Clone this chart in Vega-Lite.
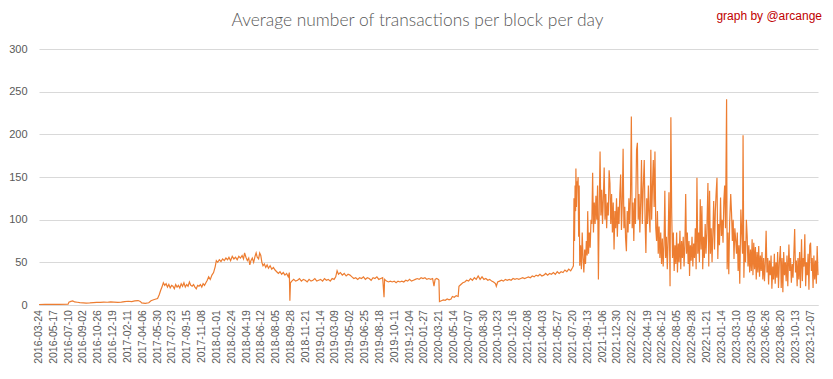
{
"$schema": "https://vega.github.io/schema/vega-lite/v6.json",
"width": 779, "height": 256,
"autosize": {"type": "none"},
"padding": {"left": 39, "top": 49, "right": 15, "bottom": 74},
"background": "white",
"title": {"text": "Average number of transactions per block per day", "frame": "group", "anchor": "middle", "orient": "top", "offset": 16},
"config": {"view": {"stroke": null}, "title": {"font": "Lato", "fontSize": 17.4, "fontWeight": 300, "color": "#595959", "dx": -11, "dy": 36}},
"datasets": {
"ticks": [{"tick":"2016-03-24"},{"tick":"2016-05-17"},{"tick":"2016-07-10"},{"tick":"2016-09-02"},{"tick":"2016-10-26"},{"tick":"2016-12-19"},{"tick":"2017-02-11"},{"tick":"2017-04-06"},{"tick":"2017-05-30"},{"tick":"2017-07-23"},{"tick":"2017-09-15"},{"tick":"2017-11-08"},{"tick":"2018-01-01"},{"tick":"2018-02-24"},{"tick":"2018-04-19"},{"tick":"2018-06-12"},{"tick":"2018-08-05"},{"tick":"2018-09-28"},{"tick":"2018-11-21"},{"tick":"2019-01-14"},{"tick":"2019-03-09"},{"tick":"2019-05-02"},{"tick":"2019-06-25"},{"tick":"2019-08-18"},{"tick":"2019-10-11"},{"tick":"2019-12-04"},{"tick":"2020-01-27"},{"tick":"2020-03-21"},{"tick":"2020-05-14"},{"tick":"2020-07-07"},{"tick":"2020-08-30"},{"tick":"2020-10-23"},{"tick":"2020-12-16"},{"tick":"2021-02-08"},{"tick":"2021-04-03"},{"tick":"2021-05-27"},{"tick":"2021-07-20"},{"tick":"2021-09-13"},{"tick":"2021-11-06"},{"tick":"2021-12-30"},{"tick":"2022-02-22"},{"tick":"2022-04-19"},{"tick":"2022-06-12"},{"tick":"2022-08-05"},{"tick":"2022-09-28"},{"tick":"2022-11-21"},{"tick":"2023-01-14"},{"tick":"2023-03-10"},{"tick":"2023-05-03"},{"tick":"2023-06-26"},{"tick":"2023-08-20"},{"tick":"2023-10-13"},{"tick":"2023-12-07"}],
"series": [
{"date":"2016-03-24","value":0.6},{"date":"2016-04-15","value":0.7},{"date":"2016-05-10","value":0.7},{"date":"2016-06-05","value":0.8},{"date":"2016-07-08","value":0.9},
{"date":"2016-07-11","value":3.4},{"date":"2016-07-18","value":4.2},{"date":"2016-07-25","value":4.8},{"date":"2016-08-01","value":3.6},{"date":"2016-08-10","value":3.2},{"date":"2016-08-20","value":2.8},{"date":"2016-09-01","value":2.6},{"date":"2016-09-12","value":2.3},{"date":"2016-09-25","value":2.5},{"date":"2016-10-08","value":2.8},{"date":"2016-10-20","value":3.0},{"date":"2016-11-02","value":3.1},{"date":"2016-11-15","value":3.4},{"date":"2016-11-28","value":3.2},{"date":"2016-12-10","value":3.6},{"date":"2016-12-22","value":3.3},
{"date":"2017-01-05","value":3.0},{"date":"2017-01-18","value":3.4},{"date":"2017-01-30","value":4.0},{"date":"2017-02-12","value":4.4},{"date":"2017-02-25","value":4.0},{"date":"2017-03-08","value":4.8},{"date":"2017-03-20","value":5.2},{"date":"2017-03-28","value":4.2},{"date":"2017-04-02","value":2.4},{"date":"2017-04-15","value":2.0},{"date":"2017-04-28","value":2.6},{"date":"2017-05-06","value":5.0},{"date":"2017-05-18","value":6.5},{"date":"2017-05-30","value":7.5},{"date":"2017-06-05","value":12},{"date":"2017-06-10","value":17},{"date":"2017-06-15","value":21},{"date":"2017-06-20","value":26},{"date":"2017-06-25","value":23},{"date":"2017-06-30","value":25},
{"date":"2017-07-05","value":21},{"date":"2017-07-10","value":24},{"date":"2017-07-15","value":20},{"date":"2017-07-20","value":23},{"date":"2017-07-25","value":22},{"date":"2017-07-30","value":19},{"date":"2017-08-04","value":24},{"date":"2017-08-09","value":21},{"date":"2017-08-14","value":23},{"date":"2017-08-19","value":20},{"date":"2017-08-24","value":25},{"date":"2017-08-29","value":22},{"date":"2017-09-03","value":26},{"date":"2017-09-08","value":21},{"date":"2017-09-13","value":24},{"date":"2017-09-18","value":22},{"date":"2017-09-23","value":27},{"date":"2017-09-28","value":23},{"date":"2017-10-03","value":22},{"date":"2017-10-08","value":24},{"date":"2017-10-13","value":21},{"date":"2017-10-18","value":19},{"date":"2017-10-23","value":23},{"date":"2017-10-28","value":22},{"date":"2017-11-02","value":24},{"date":"2017-11-07","value":21},{"date":"2017-11-12","value":25},{"date":"2017-11-17","value":23},{"date":"2017-11-22","value":26},{"date":"2017-11-27","value":29},{"date":"2017-12-02","value":33},{"date":"2017-12-08","value":30},{"date":"2017-12-14","value":35},{"date":"2017-12-20","value":38},{"date":"2017-12-26","value":45},{"date":"2017-12-30","value":52},
{"date":"2018-01-04","value":50},{"date":"2018-01-10","value":53},{"date":"2018-01-16","value":51},{"date":"2018-01-22","value":54},{"date":"2018-01-28","value":52},{"date":"2018-02-03","value":55},{"date":"2018-02-09","value":53},{"date":"2018-02-14","value":56},{"date":"2018-02-20","value":52},{"date":"2018-02-26","value":57},{"date":"2018-03-04","value":54},{"date":"2018-03-10","value":56},{"date":"2018-03-16","value":53},{"date":"2018-03-22","value":57},{"date":"2018-03-28","value":55},{"date":"2018-04-03","value":58},{"date":"2018-04-08","value":54},{"date":"2018-04-12","value":61},{"date":"2018-04-17","value":56},{"date":"2018-04-22","value":52},{"date":"2018-04-27","value":55},{"date":"2018-05-01","value":47},{"date":"2018-05-05","value":52},{"date":"2018-05-10","value":55},{"date":"2018-05-15","value":50},{"date":"2018-05-20","value":57},{"date":"2018-05-24","value":61},{"date":"2018-05-28","value":56},{"date":"2018-06-02","value":54},{"date":"2018-06-06","value":61},{"date":"2018-06-10","value":58},{"date":"2018-06-14","value":50},{"date":"2018-06-18","value":46},{"date":"2018-06-23","value":48},{"date":"2018-06-28","value":44},{"date":"2018-07-03","value":47},{"date":"2018-07-08","value":43},{"date":"2018-07-14","value":46},{"date":"2018-07-20","value":42},{"date":"2018-07-26","value":44},{"date":"2018-08-01","value":41},{"date":"2018-08-07","value":39},{"date":"2018-08-13","value":37},{"date":"2018-08-19","value":39},{"date":"2018-08-25","value":36},{"date":"2018-08-31","value":38},{"date":"2018-09-06","value":35},{"date":"2018-09-12","value":37},{"date":"2018-09-18","value":33},{"date":"2018-09-22","value":38},{"date":"2018-09-24","value":5},{"date":"2018-09-26","value":26},{"date":"2018-10-01","value":28},{"date":"2018-10-08","value":30},{"date":"2018-10-15","value":28},{"date":"2018-10-22","value":29},{"date":"2018-10-29","value":31},{"date":"2018-11-05","value":28},{"date":"2018-11-12","value":30},{"date":"2018-11-19","value":29},{"date":"2018-11-26","value":27},{"date":"2018-12-03","value":30},{"date":"2018-12-10","value":28},{"date":"2018-12-17","value":29},{"date":"2018-12-24","value":31},{"date":"2018-12-31","value":28},
{"date":"2019-01-07","value":29},{"date":"2019-01-14","value":30},{"date":"2019-01-21","value":28},{"date":"2019-01-28","value":31},{"date":"2019-02-04","value":29},{"date":"2019-02-11","value":30},{"date":"2019-02-18","value":28},{"date":"2019-02-25","value":31},{"date":"2019-03-04","value":30},{"date":"2019-03-10","value":33},{"date":"2019-03-15","value":40},{"date":"2019-03-20","value":36},{"date":"2019-03-27","value":38},{"date":"2019-04-03","value":35},{"date":"2019-04-10","value":37},{"date":"2019-04-17","value":34},{"date":"2019-04-24","value":36},{"date":"2019-05-01","value":35},{"date":"2019-05-08","value":33},{"date":"2019-05-15","value":31},{"date":"2019-05-22","value":32},{"date":"2019-05-29","value":30},{"date":"2019-06-05","value":32},{"date":"2019-06-12","value":31},{"date":"2019-06-19","value":33},{"date":"2019-06-26","value":30},{"date":"2019-07-03","value":32},{"date":"2019-07-10","value":31},{"date":"2019-07-17","value":29},{"date":"2019-07-24","value":32},{"date":"2019-07-31","value":31},{"date":"2019-08-07","value":33},{"date":"2019-08-14","value":30},{"date":"2019-08-21","value":31},{"date":"2019-08-28","value":32},{"date":"2019-09-02","value":9},{"date":"2019-09-04","value":30},{"date":"2019-09-11","value":28},{"date":"2019-09-18","value":27},{"date":"2019-09-25","value":28},{"date":"2019-10-02","value":27},{"date":"2019-10-09","value":28},{"date":"2019-10-16","value":26},{"date":"2019-10-23","value":28},{"date":"2019-10-30","value":27},{"date":"2019-11-06","value":28},{"date":"2019-11-13","value":27},{"date":"2019-11-20","value":29},{"date":"2019-11-27","value":28},{"date":"2019-12-04","value":30},{"date":"2019-12-11","value":28},{"date":"2019-12-18","value":29},{"date":"2019-12-25","value":30},
{"date":"2020-01-01","value":31},{"date":"2020-01-08","value":30},{"date":"2020-01-15","value":32},{"date":"2020-01-22","value":31},{"date":"2020-01-29","value":32},{"date":"2020-02-05","value":30},{"date":"2020-02-12","value":31},{"date":"2020-02-19","value":30},{"date":"2020-02-26","value":31},{"date":"2020-03-02","value":22},{"date":"2020-03-06","value":30},{"date":"2020-03-12","value":31},{"date":"2020-03-18","value":30},{"date":"2020-03-20","value":29},{"date":"2020-03-22","value":4},{"date":"2020-03-29","value":5},{"date":"2020-04-05","value":6},{"date":"2020-04-12","value":5.5},{"date":"2020-04-19","value":7},{"date":"2020-04-26","value":6},{"date":"2020-05-03","value":7},{"date":"2020-05-08","value":10},{"date":"2020-05-15","value":9},{"date":"2020-05-22","value":11},{"date":"2020-05-29","value":10},{"date":"2020-06-01","value":22},{"date":"2020-06-08","value":24},{"date":"2020-06-15","value":26},{"date":"2020-06-22","value":27},{"date":"2020-06-29","value":29},{"date":"2020-07-06","value":28},{"date":"2020-07-13","value":31},{"date":"2020-07-20","value":29},{"date":"2020-07-27","value":32},{"date":"2020-08-03","value":30},{"date":"2020-08-10","value":34},{"date":"2020-08-17","value":30},{"date":"2020-08-24","value":33},{"date":"2020-08-31","value":30},{"date":"2020-09-07","value":31},{"date":"2020-09-14","value":29},{"date":"2020-09-21","value":30},{"date":"2020-09-28","value":28},{"date":"2020-10-05","value":27},{"date":"2020-10-12","value":25},{"date":"2020-10-15","value":22},{"date":"2020-10-20","value":27},{"date":"2020-10-27","value":28},{"date":"2020-11-03","value":29},{"date":"2020-11-10","value":28},{"date":"2020-11-17","value":30},{"date":"2020-11-24","value":29},{"date":"2020-12-01","value":30},{"date":"2020-12-08","value":29},{"date":"2020-12-15","value":31},{"date":"2020-12-22","value":30},{"date":"2020-12-29","value":31},
{"date":"2021-01-05","value":30},{"date":"2021-01-12","value":31},{"date":"2021-01-19","value":32},{"date":"2021-01-26","value":31},{"date":"2021-02-02","value":32},{"date":"2021-02-09","value":33},{"date":"2021-02-16","value":32},{"date":"2021-02-23","value":34},{"date":"2021-03-02","value":33},{"date":"2021-03-09","value":35},{"date":"2021-03-16","value":34},{"date":"2021-03-23","value":36},{"date":"2021-03-30","value":34},{"date":"2021-04-06","value":35},{"date":"2021-04-13","value":37},{"date":"2021-04-20","value":35},{"date":"2021-04-27","value":37},{"date":"2021-05-04","value":36},{"date":"2021-05-11","value":38},{"date":"2021-05-18","value":36},{"date":"2021-05-25","value":39},{"date":"2021-06-01","value":37},{"date":"2021-06-08","value":39},{"date":"2021-06-15","value":38},{"date":"2021-06-22","value":41},{"date":"2021-06-29","value":39},{"date":"2021-07-06","value":42},{"date":"2021-07-13","value":40},{"date":"2021-07-20","value":44},{"date":"2021-07-23","value":46},
{"date":"2021-07-25","value":125},{"date":"2021-07-27","value":75},{"date":"2021-07-29","value":140},{"date":"2021-07-31","value":110},{"date":"2021-08-01","value":160},{"date":"2021-08-03","value":115},{"date":"2021-08-05","value":145},{"date":"2021-08-07","value":140},{"date":"2021-08-09","value":150},{"date":"2021-08-11","value":80},{"date":"2021-08-13","value":140},{"date":"2021-08-15","value":46},{"date":"2021-08-18","value":70},{"date":"2021-08-21","value":42},{"date":"2021-08-24","value":85},{"date":"2021-08-27","value":55},{"date":"2021-08-30","value":38},
{"date":"2021-09-02","value":65},{"date":"2021-09-05","value":48},{"date":"2021-09-08","value":75},{"date":"2021-09-11","value":58},{"date":"2021-09-13","value":110},{"date":"2021-09-16","value":60},{"date":"2021-09-19","value":85},{"date":"2021-09-22","value":67},{"date":"2021-09-25","value":100},{"date":"2021-09-28","value":95},
{"date":"2021-10-01","value":155},{"date":"2021-10-04","value":85},{"date":"2021-10-07","value":120},{"date":"2021-10-10","value":95},{"date":"2021-10-13","value":128},{"date":"2021-10-16","value":100},{"date":"2021-10-19","value":140},{"date":"2021-10-22","value":30},{"date":"2021-10-25","value":115},{"date":"2021-10-28","value":180},{"date":"2021-10-31","value":105},
{"date":"2021-11-03","value":135},{"date":"2021-11-06","value":95},{"date":"2021-11-09","value":125},{"date":"2021-11-12","value":161},{"date":"2021-11-15","value":100},{"date":"2021-11-18","value":130},{"date":"2021-11-21","value":90},{"date":"2021-11-24","value":120},{"date":"2021-11-27","value":105},{"date":"2021-11-30","value":158},
{"date":"2021-12-03","value":143},{"date":"2021-12-06","value":95},{"date":"2021-12-09","value":130},{"date":"2021-12-12","value":85},{"date":"2021-12-15","value":120},{"date":"2021-12-18","value":65},{"date":"2021-12-21","value":110},{"date":"2021-12-24","value":90},{"date":"2021-12-27","value":125},{"date":"2021-12-30","value":80},
{"date":"2022-01-02","value":115},{"date":"2022-01-05","value":95},{"date":"2022-01-08","value":130},{"date":"2022-01-11","value":153},{"date":"2022-01-14","value":88},{"date":"2022-01-17","value":120},{"date":"2022-01-20","value":183},{"date":"2022-01-23","value":90},{"date":"2022-01-26","value":115},{"date":"2022-01-29","value":78},
{"date":"2022-02-01","value":63},{"date":"2022-02-04","value":110},{"date":"2022-02-07","value":85},{"date":"2022-02-10","value":125},{"date":"2022-02-13","value":95},{"date":"2022-02-16","value":130},{"date":"2022-02-19","value":221},{"date":"2022-02-22","value":90},{"date":"2022-02-25","value":120},{"date":"2022-02-28","value":75},
{"date":"2022-03-03","value":125},{"date":"2022-03-06","value":95},{"date":"2022-03-10","value":182},{"date":"2022-03-13","value":190},{"date":"2022-03-16","value":100},{"date":"2022-03-19","value":130},{"date":"2022-03-22","value":85},{"date":"2022-03-25","value":120},{"date":"2022-03-28","value":170},{"date":"2022-03-31","value":95},
{"date":"2022-04-03","value":135},{"date":"2022-04-07","value":170},{"date":"2022-04-10","value":100},{"date":"2022-04-13","value":61},{"date":"2022-04-16","value":125},{"date":"2022-04-19","value":95},{"date":"2022-04-22","value":140},{"date":"2022-04-25","value":105},{"date":"2022-04-28","value":85},
{"date":"2022-05-01","value":182},{"date":"2022-05-04","value":100},{"date":"2022-05-07","value":140},{"date":"2022-05-10","value":170},{"date":"2022-05-13","value":115},{"date":"2022-05-16","value":180},{"date":"2022-05-19","value":90},{"date":"2022-05-22","value":75},{"date":"2022-05-25","value":110},{"date":"2022-05-28","value":60},{"date":"2022-05-31","value":92},
{"date":"2022-06-03","value":55},{"date":"2022-06-06","value":85},{"date":"2022-06-09","value":48},{"date":"2022-06-12","value":78},{"date":"2022-06-15","value":45},{"date":"2022-06-18","value":70},{"date":"2022-06-21","value":134},{"date":"2022-06-24","value":55},{"date":"2022-06-27","value":80},{"date":"2022-06-30","value":42},
{"date":"2022-07-03","value":75},{"date":"2022-07-06","value":132},{"date":"2022-07-10","value":22},{"date":"2022-07-13","value":220},{"date":"2022-07-16","value":108},{"date":"2022-07-19","value":55},{"date":"2022-07-22","value":85},{"date":"2022-07-25","value":40},{"date":"2022-07-28","value":70},{"date":"2022-07-31","value":48},
{"date":"2022-08-03","value":85},{"date":"2022-08-06","value":38},{"date":"2022-08-09","value":72},{"date":"2022-08-12","value":50},{"date":"2022-08-15","value":87},{"date":"2022-08-18","value":42},{"date":"2022-08-21","value":75},{"date":"2022-08-24","value":55},{"date":"2022-08-27","value":80},{"date":"2022-08-30","value":45},
{"date":"2022-09-02","value":70},{"date":"2022-09-05","value":130},{"date":"2022-09-08","value":60},{"date":"2022-09-11","value":85},{"date":"2022-09-14","value":48},{"date":"2022-09-17","value":75},{"date":"2022-09-19","value":34},{"date":"2022-09-22","value":70},{"date":"2022-09-25","value":52},{"date":"2022-09-28","value":80},
{"date":"2022-10-01","value":45},{"date":"2022-10-04","value":72},{"date":"2022-10-07","value":55},{"date":"2022-10-10","value":90},{"date":"2022-10-13","value":42},{"date":"2022-10-16","value":149},{"date":"2022-10-19","value":60},{"date":"2022-10-22","value":85},{"date":"2022-10-25","value":50},{"date":"2022-10-28","value":124},{"date":"2022-10-31","value":65},
{"date":"2022-11-03","value":116},{"date":"2022-11-06","value":42},{"date":"2022-11-09","value":80},{"date":"2022-11-12","value":55},{"date":"2022-11-15","value":95},{"date":"2022-11-18","value":60},{"date":"2022-11-21","value":85},{"date":"2022-11-25","value":143},{"date":"2022-11-28","value":45},
{"date":"2022-12-01","value":134},{"date":"2022-12-04","value":60},{"date":"2022-12-07","value":90},{"date":"2022-12-10","value":50},{"date":"2022-12-13","value":85},{"date":"2022-12-16","value":122},{"date":"2022-12-19","value":65},{"date":"2022-12-22","value":110},{"date":"2022-12-25","value":132},{"date":"2022-12-28","value":149},{"date":"2022-12-31","value":54},
{"date":"2023-01-03","value":95},{"date":"2023-01-06","value":70},{"date":"2023-01-10","value":126},{"date":"2023-01-13","value":81},{"date":"2023-01-16","value":100},{"date":"2023-01-19","value":73},{"date":"2023-01-22","value":122},{"date":"2023-01-25","value":140},{"date":"2023-01-28","value":90},
{"date":"2023-02-01","value":241},{"date":"2023-02-03","value":42},{"date":"2023-02-06","value":85},{"date":"2023-02-09","value":36},{"date":"2023-02-12","value":95},{"date":"2023-02-16","value":130},{"date":"2023-02-19","value":108},{"date":"2023-02-22","value":75},{"date":"2023-02-25","value":100},{"date":"2023-02-28","value":54},
{"date":"2023-03-03","value":90},{"date":"2023-03-06","value":77},{"date":"2023-03-09","value":60},{"date":"2023-03-12","value":85},{"date":"2023-03-15","value":40},{"date":"2023-03-18","value":70},{"date":"2023-03-21","value":25},{"date":"2023-03-25","value":112},{"date":"2023-03-28","value":85},{"date":"2023-03-31","value":60},
{"date":"2023-04-02","value":199},{"date":"2023-04-05","value":32},{"date":"2023-04-08","value":75},{"date":"2023-04-11","value":50},{"date":"2023-04-14","value":100},{"date":"2023-04-17","value":81},{"date":"2023-04-20","value":45},{"date":"2023-04-23","value":70},{"date":"2023-04-26","value":38},{"date":"2023-04-29","value":65},
{"date":"2023-05-02","value":40},{"date":"2023-05-05","value":77},{"date":"2023-05-08","value":35},{"date":"2023-05-11","value":73},{"date":"2023-05-14","value":42},{"date":"2023-05-17","value":68},{"date":"2023-05-20","value":30},{"date":"2023-05-23","value":62},{"date":"2023-05-26","value":38},{"date":"2023-05-29","value":69},
{"date":"2023-06-01","value":33},{"date":"2023-06-04","value":58},{"date":"2023-06-07","value":40},{"date":"2023-06-10","value":62},{"date":"2023-06-13","value":30},{"date":"2023-06-16","value":55},{"date":"2023-06-19","value":28},{"date":"2023-06-22","value":50},{"date":"2023-06-25","value":87},{"date":"2023-06-28","value":38},
{"date":"2023-07-01","value":55},{"date":"2023-07-04","value":24},{"date":"2023-07-07","value":52},{"date":"2023-07-10","value":35},{"date":"2023-07-13","value":58},{"date":"2023-07-16","value":19},{"date":"2023-07-19","value":45},{"date":"2023-07-22","value":30},{"date":"2023-07-25","value":60},{"date":"2023-07-28","value":25},{"date":"2023-07-31","value":50},
{"date":"2023-08-03","value":32},{"date":"2023-08-06","value":62},{"date":"2023-08-09","value":20},{"date":"2023-08-12","value":48},{"date":"2023-08-16","value":69},{"date":"2023-08-19","value":20},{"date":"2023-08-22","value":55},{"date":"2023-08-25","value":15},{"date":"2023-08-28","value":62},{"date":"2023-08-31","value":35},
{"date":"2023-09-03","value":50},{"date":"2023-09-06","value":28},{"date":"2023-09-09","value":58},{"date":"2023-09-12","value":22},{"date":"2023-09-16","value":71},{"date":"2023-09-19","value":40},{"date":"2023-09-22","value":55},{"date":"2023-09-25","value":26},{"date":"2023-09-28","value":48},
{"date":"2023-10-01","value":32},{"date":"2023-10-04","value":60},{"date":"2023-10-07","value":89},{"date":"2023-10-10","value":38},{"date":"2023-10-13","value":52},{"date":"2023-10-16","value":22},{"date":"2023-10-19","value":55},{"date":"2023-10-22","value":30},{"date":"2023-10-25","value":62},{"date":"2023-10-28","value":20},
{"date":"2023-11-01","value":77},{"date":"2023-11-04","value":28},{"date":"2023-11-07","value":55},{"date":"2023-11-10","value":45},{"date":"2023-11-13","value":83},{"date":"2023-11-16","value":22},{"date":"2023-11-19","value":50},{"date":"2023-11-22","value":35},{"date":"2023-11-25","value":60},{"date":"2023-11-28","value":18},
{"date":"2023-12-01","value":70},{"date":"2023-12-04","value":73},{"date":"2023-12-07","value":40},{"date":"2023-12-10","value":55},{"date":"2023-12-13","value":20},{"date":"2023-12-16","value":58},{"date":"2023-12-19","value":30},{"date":"2023-12-22","value":52},{"date":"2023-12-25","value":25},{"date":"2023-12-28","value":69},{"date":"2023-12-31","value":35}
]},
"layer": [
{"data": {"name": "series"},
 "mark": {"type": "line", "color": "#ED7D31", "strokeWidth": 1.2, "interpolate": "linear"},
 "encoding": {
  "x": {"field": "date", "type": "temporal",
   "scale": {"type": "utc", "domain": [{"year":2016,"month":3,"date":24,"utc":true},{"year":2023,"month":12,"date":31,"utc":true}]},
   "axis": {"title": null, "labels": false, "ticks": false, "tickSize": 0, "grid": false, "domain": true, "domainColor": "#D9D9D9"}},
  "y": {"field": "value", "type": "quantitative",
   "scale": {"domain": [0, 300], "nice": false},
   "axis": {"title": null, "values": [0,50,100,150,200,250,300], "grid": true, "gridColor": "#D9D9D9", "gridWidth": 1, "domain": false, "ticks": false, "tickSize": 0, "labelPadding": 12, "labelFont": "Liberation Sans", "labelFontSize": 11, "labelColor": "#595959"}}
 }},
{"data": {"name": "ticks"},
 "mark": {"type": "text", "angle": 270, "align": "right", "baseline": "middle", "color": "#595959", "font": "Liberation Sans", "fontSize": 10.5},
 "encoding": {
  "x": {"field": "tick", "type": "temporal"},
  "y": {"datum": -6, "type": "quantitative"},
  "text": {"field": "tick", "type": "temporal", "timeUnit": "utcyearmonthdate", "format": "%Y-%m-%d"}
 }},
{"data": {"values": [{"note": "graph by @arcange"}]},
 "mark": {"type": "text", "align": "right", "baseline": "middle", "color": "#C00000", "font": "Liberation Sans", "fontSize": 12, "dx": 4},
 "encoding": {
  "x": {"datum": {"year":2023,"month":12,"date":31,"utc":true}, "type": "temporal"},
  "y": {"datum": 339, "type": "quantitative"},
  "text": {"field": "note", "type": "nominal"}
 }}
]
}
